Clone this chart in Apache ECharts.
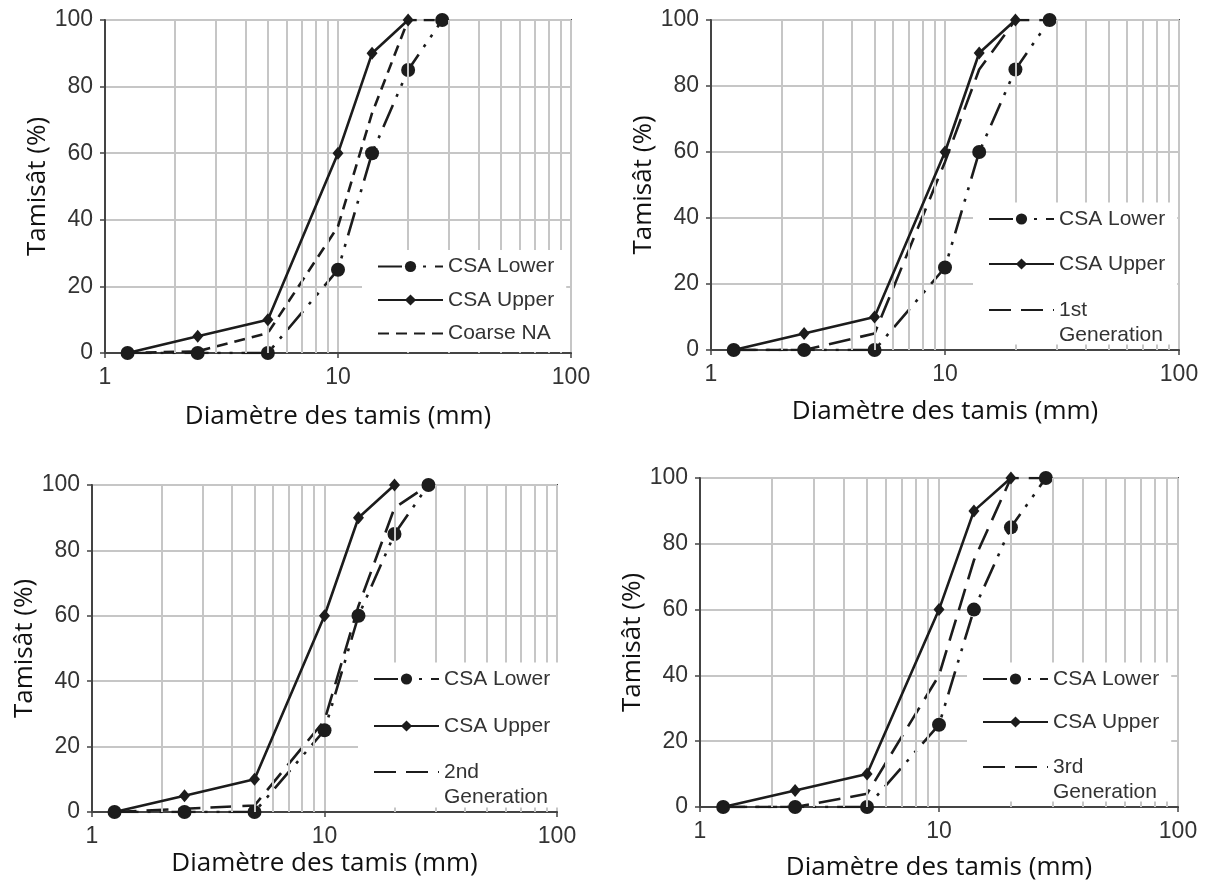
<!DOCTYPE html>
<html><head><meta charset="utf-8">
<script src="https://cdn.jsdelivr.net/npm/echarts@6/dist/echarts.min.js"></script>
<style>html,body{margin:0;padding:0;background:#fff}#c{width:1218px;height:886px}</style>
</head><body><div id="c"></div>
<script>
// ---- data ----
const sieves = [1.25, 2.5, 5, 10, 14, 20, 28];          // sieve size (mm)
const csaLower = [0, 0, 0, 25, 60, 85, 100];
const csaUpper = [0, 5, 10, 60, 90, 100, null];
const coarseNA = [0, 0.5, 6, 38, 72, 100, 100];
const gen1 = [0, 0, 5, 57, 85, 100, 100];
const gen2 = [0, 1, 2, 28, 63, 93, 100];
const gen3 = [0, 0, 4, 40, 75, 100, 100];
const thirdNames = ['Coarse NA', '1st\nGeneration', '2nd\nGeneration', '3rd\nGeneration'];
const thirdValues = [coarseNA, gen1, gen2, gen3];
const minorGridValues = [2, 3, 4, 5, 6, 7, 8, 9, 20, 30, 40, 50, 60, 70, 80, 90];
const xTitle = 'Diamètre des tamis (mm)';
const yTitle = 'Tamisât (%)';

// ---- layout ----
const panels = [
  {grid:{left:105, top:20, width:466, height:333}, xGap:51, yGap:49,
   legA:{left:362, top:250, gap:8.5, pb:6}, dash:[11,7]},
  {grid:{left:711, top:20, width:468, height:330}, xGap:49, yGap:50,
   legA:{left:973, top:202.5, gap:20, pb:68}, legB:{left:988, top:272.5}, dash:[22,10]},
  {grid:{left:92, top:485, width:465, height:327}, xGap:39, yGap:46,
   legA:{left:358, top:662.5, gap:22, pb:69}, legB:{left:373, top:734.5}, dash:[22,10]},
  {grid:{left:700, top:478, width:478, height:329}, xGap:48, yGap:51,
   legA:{left:967, top:662.5, gap:18, pb:67}, legB:{left:982, top:729.5}, dash:[22,10]}
];

const INK = '#1c1c1c';
const GRIDC = '#c6c6c6';
const pairs = vals => sieves.map((s, i) => [s, vals[i]]).filter(p => p[1] !== null);
const legText = {fontFamily:'Liberation Sans', fontSize:21, color:'#333', lineHeight:25};

const option = {animation:false, grid:[], xAxis:[], yAxis:[], legend:[], series:[]};
panels.forEach((p, k) => {
  option.grid.push(Object.assign({show:true, borderColor:'#444', borderWidth:2, backgroundColor:'transparent'}, p.grid));
  option.xAxis.push({
    type:'log', logBase:10, min:1, max:100, gridIndex:k,
    name:xTitle, nameLocation:'middle', nameGap:p.xGap,
    nameTextStyle:{fontFamily:'Open Sans', fontSize:26, color:'#111'},
    axisLine:{show:true, lineStyle:{color:'#444', width:2}},
    axisTick:{show:true, length:5, lineStyle:{color:'#444', width:1.5}},
    axisLabel:{fontFamily:'Liberation Sans', fontSize:23, color:'#333', margin:13},
    splitLine:{show:true, lineStyle:{color:GRIDC, width:2}}
  });
  option.yAxis.push({
    type:'value', min:0, max:100, interval:20, gridIndex:k,
    name:yTitle, nameLocation:'middle', nameGap:p.yGap, nameRotate:90,
    nameTextStyle:{fontFamily:'Open Sans', fontSize:26, color:'#111'},
    axisLine:{show:true, lineStyle:{color:'#444', width:2}},
    axisTick:{show:true, length:5, lineStyle:{color:'#444', width:1.5}},
    axisLabel:{fontFamily:'Liberation Sans', fontSize:23, color:'#333', margin:12},
    splitLine:{show:true, lineStyle:{color:GRIDC, width:2}}
  });
  const tName = thirdNames[k];
  const thirdItem = {name:tName, itemStyle:{opacity:0}};
  const a = p.legA;
  option.legend.push({
    orient:'vertical', left:a.left, top:a.top, itemGap:a.gap,
    itemWidth:65, itemHeight:14, backgroundColor:'#fff',
    padding:[4, 12, a.pb, 15], selectedMode:false, z:10,
    textStyle:legText,
    data: p.legB ? ['CSA Lower', 'CSA Upper'] : ['CSA Lower', 'CSA Upper', thirdItem]
  });
  if (p.legB) {
    option.legend.push({
      orient:'vertical', left:p.legB.left, top:p.legB.top,
      itemWidth:65, itemHeight:14, backgroundColor:'transparent',
      padding:0, selectedMode:false, z:11,
      textStyle:legText,
      formatter: n => '\n' + n,
      data:[thirdItem]
    });
  }
  // minor (log) grid lines
  option.series.push({
    type:'line', xAxisIndex:k, yAxisIndex:k, data:[], z:1, silent:true,
    markLine:{silent:true, symbol:['none','none'], label:{show:false}, animation:false,
      lineStyle:{color:GRIDC, width:2, type:'solid'},
      data:minorGridValues.map(v => ({xAxis:v}))}
  });
  option.series.push({
    name:tName, type:'line', xAxisIndex:k, yAxisIndex:k, data:pairs(thirdValues[k]),
    symbol:'none', z:3,
    lineStyle:{color:INK, width:2.6, type:p.dash, cap:'butt'}, itemStyle:{color:INK}
  });
  option.series.push({
    name:'CSA Lower', type:'line', xAxisIndex:k, yAxisIndex:k, data:pairs(csaLower),
    symbol:'circle', symbolSize:14, showAllSymbol:true, z:4,
    lineStyle:{color:INK, width:2.6, type:[24,9,3,9,3,9], cap:'butt'}, itemStyle:{color:INK}
  });
  option.series.push({
    name:'CSA Upper', type:'line', xAxisIndex:k, yAxisIndex:k, data:pairs(csaUpper),
    symbol:'diamond', symbolSize:[11,13], showAllSymbol:true, z:5,
    lineStyle:{color:INK, width:2.6, type:'solid'}, itemStyle:{color:INK}
  });
});

const chart = echarts.init(document.getElementById('c'), null, {renderer:'canvas'});
chart.setOption(option);
</script>
</body></html>
